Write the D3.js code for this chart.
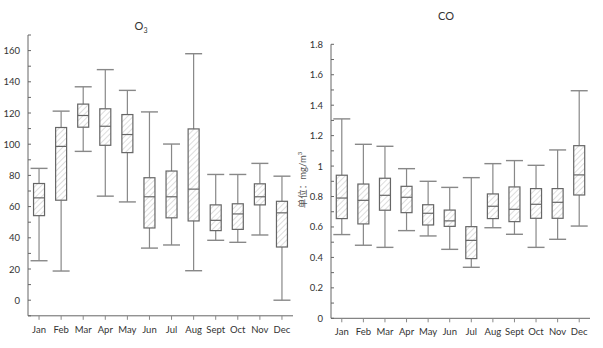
<!DOCTYPE html>
<html><head><meta charset="utf-8">
<script src="https://cdn.jsdelivr.net/npm/d3@7"></script>
<style>body{margin:0;background:#fff}svg{display:block}text{font-family:Lato,"Noto Sans CJK SC",sans-serif;fill:#333}</style>
</head><body>
<svg id="c" width="603" height="348"></svg>
<script>
const months = ["Jan","Feb","Mar","Apr","May","Jun","Jul","Aug","Sept","Oct","Nov","Dec"];
// O3: [min, Q1, median, Q3, max]
const o3Min = [25.3,18.7,95.4,66.7,63,33.4,35.4,18.9,38.4,37.1,41.8,0];
const o3Q1  = [54.2,64.1,110.9,99.3,94.6,46.3,52.8,50.8,44.6,45.4,61.1,34.1];
const o3Med = [65.6,98.6,118.4,111.5,106.2,66.3,66.3,71.2,51.2,55.3,66.3,56];
const o3Q3  = [74.8,110.7,125.7,122.7,119,78.5,82.8,109.8,61.1,61.8,74.6,63.4];
const o3Max = [84.5,121.2,136.8,147.8,134.5,120.7,100.1,158,80.6,80.6,87.7,79.5];
const o3Ticks = [0,20,40,60,80,100,120,140,160];
// CO
const coMin = [0.55,0.48,0.466,0.576,0.541,0.453,0.335,0.595,0.552,0.466,0.519,0.606];
const coQ1  = [0.655,0.62,0.71,0.694,0.613,0.604,0.392,0.655,0.635,0.657,0.657,0.81];
const coMed = [0.79,0.775,0.808,0.795,0.69,0.64,0.512,0.736,0.716,0.749,0.762,0.942];
const coQ3  = [0.94,0.882,0.92,0.867,0.746,0.711,0.602,0.817,0.863,0.852,0.852,1.134];
const coMax = [1.31,1.143,1.13,0.983,0.9,0.86,0.924,1.016,1.036,1.005,1.106,1.495];
const coTicks = [0,0.2,0.4,0.6,0.8,1,1.2,1.4,1.6,1.8];

const svg = d3.select("#c");
const defs = svg.append("defs");
const pat = defs.append("pattern").attr("id","hatch").attr("patternUnits","userSpaceOnUse")
  .attr("width",4).attr("height",4).attr("patternTransform","rotate(45)");
pat.append("rect").attr("width",4).attr("height",4).attr("fill","#fff");
pat.append("line").attr("x1",0).attr("y1",0).attr("x2",0).attr("y2",4).attr("stroke","#bbb").attr("stroke-width",1);

function panel(opt){
  const g = svg.append("g");
  const x = d3.scaleBand().domain(months).range([opt.x0, opt.x1]).padding(0);
  const y = d3.scaleLinear().domain(opt.domain).range([opt.yb, opt.yt]);
  const minorTicks = d3.range(opt.domain[0], opt.domain[1] + opt.minor/2, opt.minor);
  g.append("line").attr("x1",opt.x0).attr("x2",opt.x0).attr("y1",opt.yb).attr("y2",opt.yt).attr("stroke","#666");
  g.append("line").attr("x1",opt.x0).attr("x2",opt.x1).attr("y1",opt.yb).attr("y2",opt.yb).attr("stroke","#666");
  g.selectAll(".mt").data(minorTicks).join("line").attr("x1",opt.x0).attr("x2",opt.x0+3)
    .attr("y1",d=>y(d)).attr("y2",d=>y(d)).attr("stroke","#666");
  g.selectAll(".yl").data(opt.ticks).join("text").attr("x",opt.x0-8).attr("y",d=>y(d)+3.5)
    .attr("text-anchor","end").attr("font-size",9.5).text(d=>d);
  g.selectAll(".xt").data(months).join("line").attr("x1",d=>x(d)+x.bandwidth()/2).attr("x2",d=>x(d)+x.bandwidth()/2)
    .attr("y1",opt.yb).attr("y2",opt.yb+4).attr("stroke","#888");
  g.selectAll(".xl").data(months).join("text").attr("x",d=>x(d)+x.bandwidth()/2).attr("y",opt.yb+17)
    .attr("text-anchor","middle").attr("font-size",9.5).text(d=>d);
  const bw = 11, cw = 17;
  months.forEach((m,i)=>{
    const cx = x(m)+x.bandwidth()/2;
    const s = opt.data;
    g.append("line").attr("x1",cx).attr("x2",cx).attr("y1",y(s.max[i])).attr("y2",y(s.q3[i])).attr("stroke","#888").attr("stroke-width",1.2);
    g.append("line").attr("x1",cx).attr("x2",cx).attr("y1",y(s.q1[i])).attr("y2",y(s.min[i])).attr("stroke","#888").attr("stroke-width",1.2);
    g.append("line").attr("x1",cx-cw/2).attr("x2",cx+cw/2).attr("y1",y(s.max[i])).attr("y2",y(s.max[i])).attr("stroke","#888").attr("stroke-width",1.4);
    g.append("line").attr("x1",cx-cw/2).attr("x2",cx+cw/2).attr("y1",y(s.min[i])).attr("y2",y(s.min[i])).attr("stroke","#888").attr("stroke-width",1.4);
    g.append("rect").attr("x",cx-bw/2).attr("y",y(s.q3[i])).attr("width",bw).attr("height",y(s.q1[i])-y(s.q3[i]))
      .attr("fill","url(#hatch)").attr("stroke","#666").attr("stroke-width",1.2);
    g.append("line").attr("x1",cx-bw/2).attr("x2",cx+bw/2).attr("y1",y(s.med[i])).attr("y2",y(s.med[i])).attr("stroke","#666").attr("stroke-width",1.2);
  });
  return g;
}

const g1 = panel({x0:28,x1:293,yb:315.8,yt:35,domain:[-10,170],minor:10,ticks:o3Ticks,
  data:{min:o3Min,q1:o3Q1,med:o3Med,q3:o3Q3,max:o3Max}});
const t1 = g1.append("text").attr("x",141).attr("y",30).attr("text-anchor","middle").attr("font-size",11);
t1.append("tspan").text("O");
t1.append("tspan").attr("font-size",7).attr("dy",3).text("3");

const g2 = panel({x0:331,x1:590,yb:318.3,yt:44.3,domain:[0,1.8],minor:0.1,ticks:coTicks,
  data:{min:coMin,q1:coQ1,med:coMed,q3:coQ3,max:coMax}});
g2.append("text").attr("x",446).attr("y",20).attr("text-anchor","middle").attr("font-size",11).text("CO");
const yl = g2.append("text").attr("transform","translate(306,180) rotate(-90)").attr("text-anchor","middle").attr("font-size",9.5).style("fill","#555");
yl.append("tspan").text("单位：mg/m");
yl.append("tspan").attr("font-size",6).attr("dy",-4).text("3");
</script>
</body></html>
